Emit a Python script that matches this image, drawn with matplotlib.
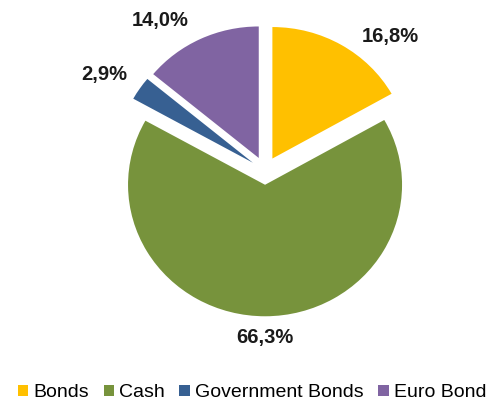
import matplotlib.pyplot as plt
from matplotlib.patches import Patch

# portfolio allocation shares (%)
categories = ["Bonds", "Cash", "Government Bonds", "Euro Bond"]
shares = [16.8, 66.3, 2.9, 14.0]
share_labels = ["16,8%", "66,3%", "2,9%", "14,0%"]
colors = ["#FFC000", "#77933C", "#376092", "#8064A2"]

# label anchor points, in pie radius units
label_xy = [(0.912, 1.024), (0.0, -1.266), (-1.17, 0.728), (-0.766, 1.142)]

plt.rcParams["font.family"] = ["Liberation Sans", "DejaVu Sans"]

fig = plt.figure(figsize=(4.99, 4.01), dpi=100)
ax = fig.add_axes([0, 0, 1, 1])

wedges, _ = ax.pie(
    shares,
    colors=colors,
    startangle=90,
    counterclock=False,
    explode=[0.107] * len(shares),
    radius=1.0,
    wedgeprops=dict(linewidth=0),
)

for (x, y), txt in zip(label_xy, share_labels):
    ax.text(x, y, txt, ha="center", va="center", fontsize=14.5,
            fontweight="bold", color="#1a1a1a")

# slightly wider than tall, as the chart area is stretched
ax.set_aspect("auto")
ax.set_xlim(-265 / 137, (499 - 265) / 137)
ax.set_ylim(-(401 - 170.7) / 131.5, 170.7 / 131.5)
ax.axis("off")

handles = [Patch(facecolor=c, edgecolor="none") for c in colors]
fig.legend(handles, categories, loc="lower center", ncol=4, frameon=False,
           fontsize=14, handlelength=0.55, handleheight=0.55,
           handletextpad=0.25, columnspacing=0.75,
           bbox_to_anchor=(0.505, -0.03), borderaxespad=0.2)

fig.savefig("out.png", dpi=100, facecolor="white")
